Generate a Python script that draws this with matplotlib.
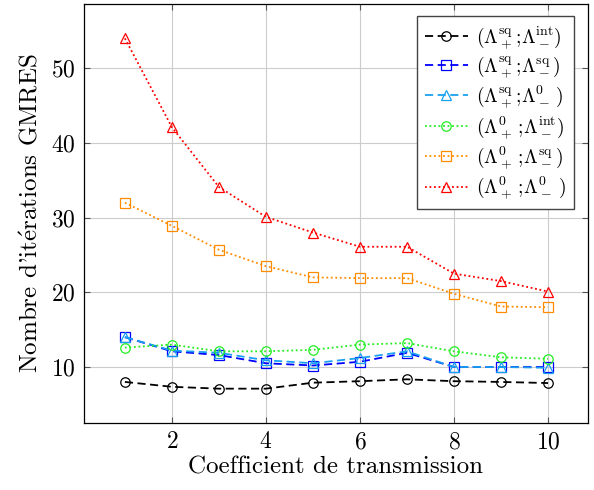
import matplotlib
matplotlib.use("Agg")
import matplotlib.pyplot as plt

plt.rcParams['font.family'] = ['cmr10', 'DejaVu Serif']
plt.rcParams['mathtext.fontset'] = 'cm'
plt.rcParams['axes.formatter.use_mathtext'] = True

coef = [1, 2, 3, 4, 5, 6, 7, 8, 9, 10]

sq_int = [8.0, 7.35, 7.1, 7.1, 7.9, 8.1, 8.35, 8.1, 8.0, 7.85]
sq_sq = [14.0, 12.1, 11.6, 10.5, 10.2, 10.7, 11.9, 10.0, 10.0, 10.0]
sq_0 = [14.0, 12.2, 11.9, 10.9, 10.5, 11.2, 12.1, 10.0, 10.0, 9.9]
zero_int = [12.6, 13.0, 12.1, 12.1, 12.3, 13.0, 13.2, 12.1, 11.3, 11.1]
zero_sq = [32.0, 28.9, 25.7, 23.5, 22.0, 21.9, 21.9, 19.8, 18.1, 18.0]
zero_0 = [54.0, 42.1, 34.1, 30.1, 28.0, 26.1, 26.1, 22.5, 21.5, 20.1]

labels = [r"$(\Lambda_+^{\rm sq}{;}\!\Lambda_-^{\rm int})$",
          r"$(\Lambda_+^{\rm sq}{;}\!\Lambda_-^{\rm sq})$",
          r"$(\Lambda_+^{\rm sq}{;}\!\Lambda_-^{0}\,)$",
          r"$(\Lambda_+^{0}\,{;}\!\Lambda_-^{\rm int})$",
          r"$(\Lambda_+^{0}\,{;}\!\Lambda_-^{\rm sq})$",
          r"$(\Lambda_+^{0}\,{;}\!\Lambda_-^{0}\,)$"]

fig = plt.figure(figsize=(5.94, 4.90), dpi=100)
ax = fig.add_axes([0.1414, 0.1367, 0.8485, 0.8551])

series = [
    (sq_int, 'black', (0, (4.5, 2.5)), 'o'),
    (sq_sq, '#0000ff', (0, (4.5, 2.5)), 's'),
    (sq_0, '#1aa0f0', (0, (4.5, 2.5)), '^'),
    (zero_int, '#22ee22', (0, (1, 1.5)), 'o'),
    (zero_sq, '#ff8c00', (0, (1, 1.5)), 's'),
    (zero_0, '#ff0000', (0, (1, 1.5)), '^'),
]
for (vals, col, ls, mk), lab in zip(series, labels):
    ax.plot(coef, vals, color=col, linestyle=ls, linewidth=1.3, marker=mk,
            markersize=6.8, markerfacecolor='none', markeredgewidth=0.9,
            label=lab)

ax.set_xlim(0.13, 10.85)
ax.set_ylim(2.5, 58.6)
ax.set_xticks([2, 4, 6, 8, 10])
ax.set_yticks([10, 20, 30, 40, 50])
ax.grid(True, color='#cccccc', linewidth=0.8)
ax.set_axisbelow(True)
ax.tick_params(direction='in', top=True, right=True, labelsize=17,
               length=4, color='#555555', pad=6)
for s in ax.spines.values():
    s.set_linewidth(0.9)

ax.set_xlabel("Coefficient de transmission", fontsize=18, labelpad=2)
ax.set_ylabel(r"Nombre d'it$\acute{\rm e}$rations GMRES", fontsize=18,
              labelpad=6)

leg = ax.legend(loc='upper right', fontsize=14.2, handlelength=2.2,
                fancybox=False, edgecolor='#444444', framealpha=1,
                borderpad=0.4, labelspacing=0.2, handletextpad=0.4,
                borderaxespad=0, bbox_to_anchor=(0.972, 0.971))
leg.get_frame().set_linewidth(1.0)

fig.savefig("out.png", dpi=100)
